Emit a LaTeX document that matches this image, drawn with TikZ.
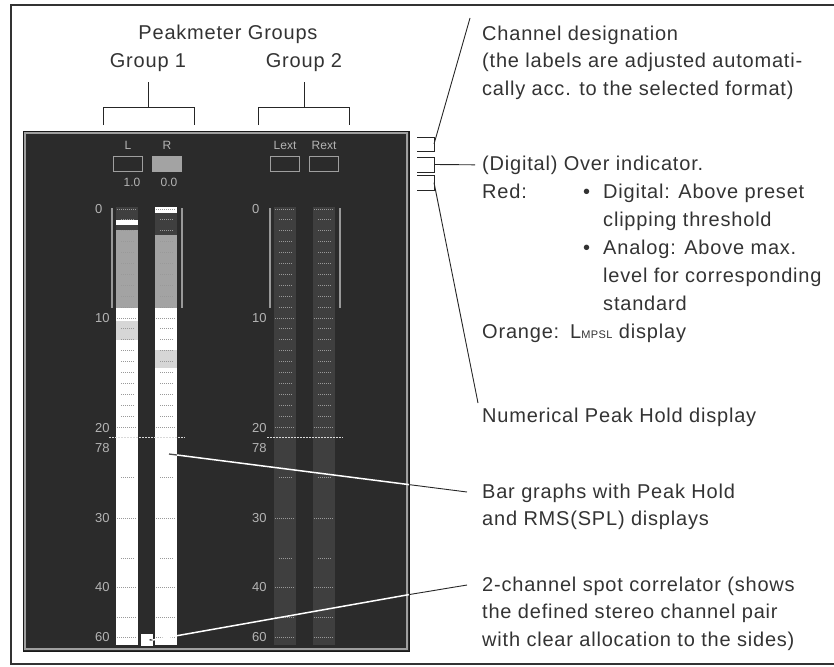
\documentclass[tikz,border=0pt]{standalone}
\usepackage{fontspec}
\setmainfont{Liberation Sans}
\newfontfamily\notefont{Liberation Sans}[LetterSpace=4.0]
\usepackage{tikz}
\usetikzlibrary{shapes,arrows,calc,positioning}
\definecolor{panelbg}{HTML}{2B2B2B}
\definecolor{barbg}{HTML}{3F3F3F}
\definecolor{rmsgray}{HTML}{A3A3A3}
\definecolor{patch}{HTML}{D6D6D6}
\definecolor{lcdtext}{HTML}{B4B4B4}
\definecolor{notetext}{HTML}{333333}
\tikzset{note/.style={font=\notefont\fontsize{20}{27.5}\selectfont, text=notetext, inner sep=0pt, anchor=base west, align=left}}
\tikzstyle{lcd}=[font=\fontsize{12}{12}\selectfont, text=lcdtext, inner sep=0pt]
\tikzstyle{ovbox}=[draw=gray!75, line width=1.2pt, minimum width=29pt, minimum height=15pt, inner sep=0pt]
\tikzstyle{tick}=[black!40, line width=1pt, dash pattern=on 1pt off 1pt]
\tikzstyle{callout}=[black!85, line width=0.9pt]
\newcommand\blt{\makebox[20pt][l]{\textbullet}}
\newcommand\ind{\hspace*{20pt}}

\begin{document}
\begin{tikzpicture}[x=1pt, y=-1pt, node distance=39pt]
\useasboundingbox (0,0) rectangle (834,666);
\draw[black!80, line width=1.2pt] (840,5) -- (11,5) -- (11,664) -- (840,664);

% groups
\node[note, anchor=base] (pkTxt) at (228,40) {Peakmeter Groups};
\node[note, anchor=base] (grpA) at (148,68) {Group 1};
\node[note, anchor=base] (grpB) at (304,68) {Group 2};
\coordinate (brA) at (148,107);
\coordinate (brB) at (304,107);
\draw[callout] (103,125) -- (103,107) -- (194,107) -- (194,125);
\draw[callout] (258,125) -- (258,107) -- (349,107) -- (349,125);
\draw[callout] (brA) -- ([yshift=-14pt]grpA.base);
\draw[callout] (brB) -- ([yshift=-14pt]grpB.base);

% display panel
\filldraw[fill=panelbg, draw=black!90, line width=1pt] (23,131) rectangle (409,651);
\draw[gray!75, line width=1.5pt] (24.8,132.8) rectangle (407.2,649.2);

\node[lcd] (chL) at (128,145) {L};
\node[lcd, right of=chL] (chR) {R};
\node[ovbox, below of=chL, node distance=19pt] (ovL) {};
\node[ovbox, right of=ovL, fill=rmsgray, draw=rmsgray] (ovR) {};
\node[lcd, below of=ovL, node distance=18pt, xshift=4pt] (pkL) {1.0};
\node[lcd, right of=pkL, xshift=-2pt] (pkR) {0.0};

\node[lcd] (chLx) at (285,145) {Lext};
\node[lcd, right of=chLx] (chRx) {Rext};
\node[ovbox, below of=chLx, node distance=19pt] (ovLx) {};
\node[ovbox, right of=ovLx] (ovRx) {};

% bars
\fill[barbg] (274,207) rectangle (296,645);
\fill[barbg] (313,207) rectangle (335,645);
\fill[white] (116,207) rectangle (138,645);
\fill[barbg] (116,207) rectangle (138,230);
\fill[white] (116,220) rectangle (138,225);
\fill[rmsgray] (116,230) rectangle (138,308);
\fill[patch] (116,321) rectangle (138,340);
\fill[white] (155,207) rectangle (177,645);
\fill[barbg] (155,213) rectangle (177,235);
\fill[rmsgray] (155,235) rectangle (177,308);
\fill[patch] (155,350) rectangle (177,368);

\foreach \sx in {112,181.5,270,339.5}
  \draw[gray!80, line width=2pt] (\sx,208) -- (\sx,308);

\foreach \bx in {116,155,274,313} {
  \foreach \k in {1,...,9,11,12,...,19}
    \draw[tick] (\bx+5,209+10.9*\k) -- (\bx+18,209+10.9*\k);
  \foreach \ty in {477,558}
    \draw[tick] (\bx+5,\ty) -- (\bx+18,\ty);
  \foreach \ty in {209,318,427,518,587,617,637}
    \draw[tick] (\bx+1,\ty) -- (\bx+21,\ty);
}
\draw[white!85!black, dash pattern=on 1.5pt off 1.5pt] (109,437) -- (185,437);
\draw[white!85!black, dash pattern=on 1.5pt off 1.5pt] (267,437) -- (343,437);

\foreach \v/\y in {0/209,10/318,20/428,78/448,30/518,40/587,60/637} {
  \node[lcd, anchor=west, font=\fontsize{13}{13}\selectfont] (sA\v) at (95,\y) {\v};
  \node[lcd, anchor=west, font=\fontsize{13}{13}\selectfont] (sB\v) at (252,\y) {\v};
}

\node[fill=white, minimum size=12pt, inner sep=0pt] (corr) at (146.5,640) {};

% callouts into the panel
\coordinate (rmsTip) at (169,454);
\coordinate (rmsBar) at (177,455);
\coordinate (rmsEdge) at (409,484.6);
\coordinate (rmsEnd) at (467,492);
\draw[black!70, line width=1.3pt] (rmsTip) -- (rmsBar);
\draw[white, line width=1.5pt] (rmsBar) -- (rmsEdge);
\draw[callout] (rmsEdge) -- (rmsEnd);

\coordinate (corrTip) at (149.5,639.8);
\coordinate (corrEdge) at (409,594.6);
\coordinate (corrEnd) at (467,585);
\draw[black!70, line width=1.3pt] (corrTip) -- (corr.east);
\draw[white, line width=1.5pt] (corr.east) -- (corrEdge);
\draw[callout] (corrEdge) -- (corrEnd);

% brackets right of the panel
\draw[callout] (417,137) -- (434,137) -- (434,151) -- (417,151);
\draw[callout] (417,157) -- (434,157) -- (434,172) -- (417,172);
\draw[callout] (417,175) -- (434,175) -- (434,190) -- (417,190);
\coordinate (chanBr) at (434,144);
\coordinate (overBr) at (434,164.5);
\coordinate (peakBr) at (434,182.5);
\coordinate (chanEnd) at (470,18);
\coordinate (peakEnd) at (478,403);

% notes (multi-line notes sit on the baseline of their last line)
\node[note] (chanTxt) at (482,95.5) {Channel designation\\(the labels are adjusted automati-\\cally acc. to the selected format)};
\node[note, inner xsep=7pt] (overTxt) at (475,170) {(Digital) Over indicator.};
\node[note] (redTxt) at (482,198) {Red:};
\node[note, font=\notefont\fontsize{20}{28}\selectfont] (redList) at (583,310) {\blt Digital: Above preset\\\ind clipping threshold\\\blt Analog: Above max.\\\ind level for corresponding\\\ind standard};
\node[note] (orgTxt) at (482,338) {Orange:};
\node[note] (mpslTxt) at (570,338) {L{\fontsize{11}{11}\selectfont MPSL} display};
\node[note] (peakTxt) at (482,422) {Numerical Peak Hold display};
\node[note] (rmsTxt) at (482,525.5) {Bar graphs with Peak Hold\\and RMS(SPL) displays};
\node[note] (corrTxt) at (482,646) {2-channel spot correlator (shows\\the defined stereo channel pair\\with clear allocation to the sides)};

\draw[callout] (chanBr) -- (chanEnd);
\draw[callout] (overBr) -- (overTxt.west);
\draw[callout] (peakBr) -- (peakEnd);
\end{tikzpicture}
\end{document}
